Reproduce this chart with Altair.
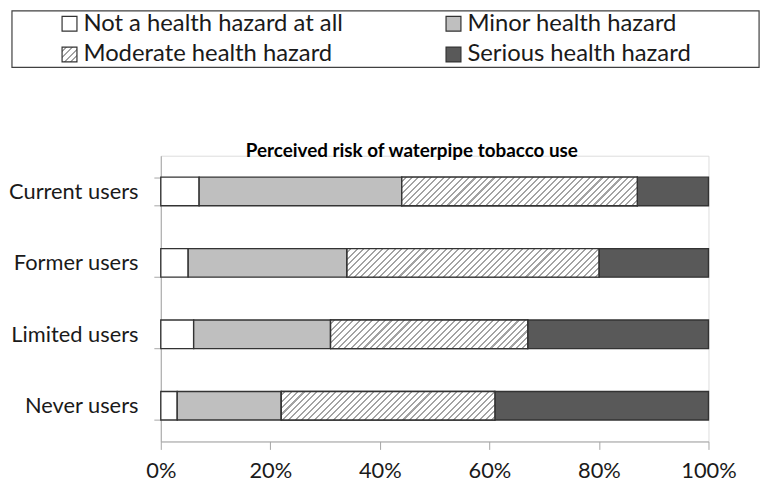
import json
import altair as alt
import pandas as pd

# ---- data ----
groups = ["Current users", "Former users", "Limited users", "Never users"]
series = ["Not a health hazard at all", "Minor health hazard",
          "Moderate health hazard", "Serious health hazard"]
not_hazard = [7, 5, 6, 3]
minor = [37, 29, 25, 19]
moderate = [43, 46, 36, 39]
serious = [13, 20, 33, 39]
x_ticks = [0, 20, 40, 60, 80, 100]
title_text = "Perceived risk of waterpipe tobacco use"

# ---- styling ----
FONT = "Lato"
FS = 22
LFS = 24
W, H = 552, 288
PAD_INNER = 0.6
BAR_H = H / len(groups) * (1 - PAD_INNER)
STROKE = "#333333"
HATCH = "#a3a3a3"
PERIOD = 6.4
LINE = 2.1
colors = ["#ffffff", "#bfbfbf", "#ffffff", "#595959"]

rows = []
for i, g in enumerate(groups):
    vals = [not_hazard[i], minor[i], moderate[i], serious[i]]
    tot = float(sum(vals))
    cum = 0.0
    for s, v in zip(series, vals):
        rows.append({"group": g, "series": s, "start": cum / tot, "end": (cum + v) / tot})
        cum += v
df = pd.DataFrame(rows)


def hatch(w, h):
    """Diagonal '/' hatch as a linear gradient in the mark's bounding box."""
    total = w + h
    r = h / w
    a = (1 + r) / (1 + r * r)
    stops = [{"offset": 0, "color": "#ffffff"}]
    s = PERIOD * 0.5
    while s < total:
        o1 = round(s / total, 5)
        o2 = round(min((s + LINE) / total, 1), 5)
        stops += [{"offset": o1, "color": "#ffffff"}, {"offset": o1, "color": HATCH},
                  {"offset": o2, "color": HATCH}, {"offset": o2, "color": "#ffffff"}]
        s += PERIOD
    stops.append({"offset": 1, "color": "#ffffff"})
    return {"gradient": "linear", "x1": 0, "y1": 0, "x2": round(a, 5), "y2": round(a * r, 5),
            "stops": stops}


# legend symbol fill chosen per entry (hatched square for "Moderate")
sym_expr = (
    f"datum.value === {json.dumps(series[0])} ? {json.dumps(colors[0])} : "
    f"datum.value === {json.dumps(series[1])} ? {json.dumps(colors[1])} : "
    f"datum.value === {json.dumps(series[2])} ? {json.dumps(hatch(15, 15))} : "
    f"{json.dumps(colors[3])}"
)

y_enc = alt.Y("group:N", sort=groups, title=None,
              scale=alt.Scale(paddingInner=PAD_INNER, paddingOuter=PAD_INNER / 2),
              axis=alt.Axis(tickBand="extent", domainColor="#a6a6a6", tickColor="#a6a6a6",
                            tickSize=7, labelPadding=16, labelFontSize=FS, labelFont=FONT,
                            labelColor="#1a1a1a", labelLimit=250, grid=False))
x_enc = alt.X("start:Q", title=None,
              scale=alt.Scale(domain=[0, 1], nice=False),
              axis=alt.Axis(values=[t / 100 for t in x_ticks], format=".0%",
                            domainColor="#a6a6a6", tickColor="#a6a6a6", tickSize=8,
                            labelPadding=11, labelFontSize=FS, labelFont=FONT,
                            labelColor="#1a1a1a", labelFlush=False, grid=False))

# Vega fills legend columns first: column 1 = entries 0,2 ; column 2 = entries 1,3
legend_order = [series[0], series[2], series[1], series[3]]
legend = alt.Legend(title=None, orient="none", legendX=-104, legendY=-145,
                    values=legend_order,
                    columns=2, columnPadding=99, rowPadding=7, padding=0,
                    symbolType="square", symbolSize=225,
                    symbolFillColor=alt.ExprRef(expr=sym_expr),
                    symbolStrokeWidth=1.2, symbolOpacity=1, labelFont=FONT, labelFontSize=LFS,
                    labelColor="#1a1a1a", labelOffset=2, labelLimit=400)

base = alt.Chart(df)

plain = base.mark_bar(strokeWidth=1.4).encode(
    x=x_enc, x2="end:Q", y=y_enc,
    fill=alt.Fill("series:N", scale=alt.Scale(domain=series, range=colors), legend=None),
    stroke=alt.Stroke("series:N",
                      scale=alt.Scale(domain=list(reversed(series)), range=[STROKE] * 4),
                      legend=legend),
)

layers = [plain]
for i, g in enumerate(groups):
    w = moderate[i] / 100.0 * W
    layers.append(
        base.transform_filter((alt.datum.group == g) & (alt.datum.series == series[2]))
        .mark_bar(fill=hatch(w, BAR_H), stroke=STROKE, strokeWidth=1.4)
        .encode(x=alt.X("start:Q"), x2="end:Q", y=alt.Y("group:N", sort=groups))
    )

frame = alt.Chart(alt.Data(values=[{"k": 1}])).mark_rect(
    fill="transparent", stroke="#404040", strokeWidth=1.2
).encode(x=alt.value(-150), x2=alt.value(603), y=alt.value(-146), y2=alt.value(-89))
layers.append(frame)

chart = alt.layer(*layers).properties(
    width=W, height=H,
    autosize=alt.AutoSizeParams(type="none"),
    padding={"left": 154, "top": 147, "right": 61, "bottom": 42},
    title=alt.TitleParams(title_text, anchor="middle", dx=-23, dy=138, offset=-14,
                          fontSize=19, font=FONT, fontWeight="bold", color="#000000"),
).configure_view(strokeWidth=0).configure(background="white")

chart.save("out.html", embed_options={"renderer": "svg", "actions": False})
